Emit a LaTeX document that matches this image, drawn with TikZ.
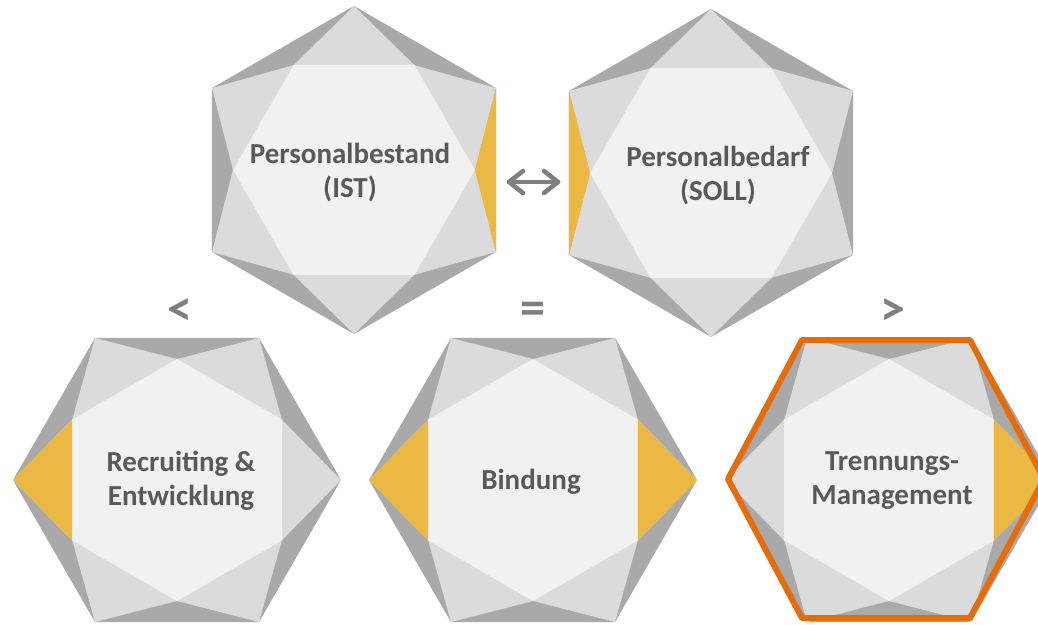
\documentclass[tikz,border=0pt]{standalone}
\usepackage{fontspec}
\setmainfont{Carlito}
\usetikzlibrary{calc}
\definecolor{gdark}{HTML}{A9A9A9}
\definecolor{gmid}{HTML}{DBDBDB}
\definecolor{glight}{HTML}{F1F1F1}
\definecolor{gold}{HTML}{EBB843}
\definecolor{txtgray}{HTML}{595959}
\definecolor{symgray}{HTML}{7F7F7F}
\definecolor{orng}{HTML}{E46C0A}
\newcommand\gemshape[2]{%
  \begin{scope}[shift={(#1)}]
    \fill[gdark] (#2:164) -- (#2+60:164) -- (#2+120:164) -- (#2+180:164) -- (#2+240:164) -- (#2+300:164) -- cycle;
    \fill[gmid] (#2:164) -- (#2+30:121) -- (#2+60:164) -- (#2+90:121) -- (#2+120:164) -- (#2+150:121) -- (#2+180:164) -- (#2+210:121) -- (#2+240:164) -- (#2+270:121) -- (#2+300:164) -- (#2+330:121) -- cycle;
    \fill[glight] (#2+30:121) -- (#2+90:121) -- (#2+150:121) -- (#2+210:121) -- (#2+270:121) -- (#2+330:121) -- cycle;
  \end{scope}}
\begin{document}
\begin{tikzpicture}[x=1pt,y=-1pt,
  lbl/.style={font=\fontsize{29}{34}\selectfont\bfseries, text=txtgray, align=center, inner sep=0pt},
  relsym/.style={font=\fontsize{50}{56}\selectfont\bfseries, text=symgray, inner sep=0pt},
  arrowline/.style={draw=symgray, line width=4.5pt, line cap=round, line join=round},
  hilite/.style={draw=orng, line width=6pt, line join=round}]
\useasboundingbox (0,0) rectangle (1038,624);
\clip (0,0) rectangle (1038,624);
% hexagon centres
\coordinate (gTL) at (354,170);
\coordinate (gTR) at (711,173);
\coordinate (gBL) at (177,480);
\coordinate (gBM) at (533,480);
\coordinate (gBR) at (889,480);
% gems
\gemshape{gTL}{90}
\gemshape{gTR}{90}
\gemshape{gBL}{0}
\gemshape{gBM}{0}
\gemshape{gBR}{0}
% yellow facets
\fill[gold] ($(gTL)+(30:164)$) -- ($(gTL)+(0:121)$) -- ($(gTL)+(-30:164)$) -- cycle;
\fill[gold] ($(gTR)+(150:164)$) -- ($(gTR)+(180:121)$) -- ($(gTR)+(210:164)$) -- cycle;
\fill[gold] ($(gBL)+(180:164)$) -- ($(gBL)+(150:121)$) -- ($(gBL)+(210:121)$) -- cycle;
\fill[gold] ($(gBM)+(180:164)$) -- ($(gBM)+(150:121)$) -- ($(gBM)+(210:121)$) -- cycle;
\fill[gold] ($(gBM)+(0:164)$) -- ($(gBM)+(30:121)$) -- ($(gBM)+(-30:121)$) -- cycle;
\fill[gold] ($(gBR)+(0:164)$) -- ($(gBR)+(30:121)$) -- ($(gBR)+(-30:121)$) -- cycle;
% orange highlight
\draw[hilite] (728,479) -- (802,340) -- (970,340) -- (1044,479) -- (970,618) -- (802,618) -- cycle;
% labels
\node[lbl] (tTL) at (350,173) {Personalbestand\\(IST)};
\node[lbl] (tTR) at (718,176) {Personalbedarf\\(SOLL)};
\node[lbl] (tBL) at (181,481) {Recruiting \&\\Entwicklung};
\node[lbl] (tBM) at (531,482) {Bindung};
\node[lbl] (tBR) at (892,481) {Trennungs-\\Management};
% relation symbols
\node[relsym] (sLT) at (180,312) {<};
\node[relsym] (sEQ) at (533,313) {=};
\node[relsym] (sGT) at (893,312) {>};
% double arrow
\coordinate (arrL) at (509,182);
\coordinate (arrR) at (558,182);
\draw[arrowline] (arrL) -- (arrR);
\draw[arrowline] ($(arrL)+(14,-11)$) -- (arrL) -- ($(arrL)+(14,11)$);
\draw[arrowline] ($(arrR)+(-14,-11)$) -- (arrR) -- ($(arrR)+(-14,11)$);
\end{tikzpicture}
\end{document}
